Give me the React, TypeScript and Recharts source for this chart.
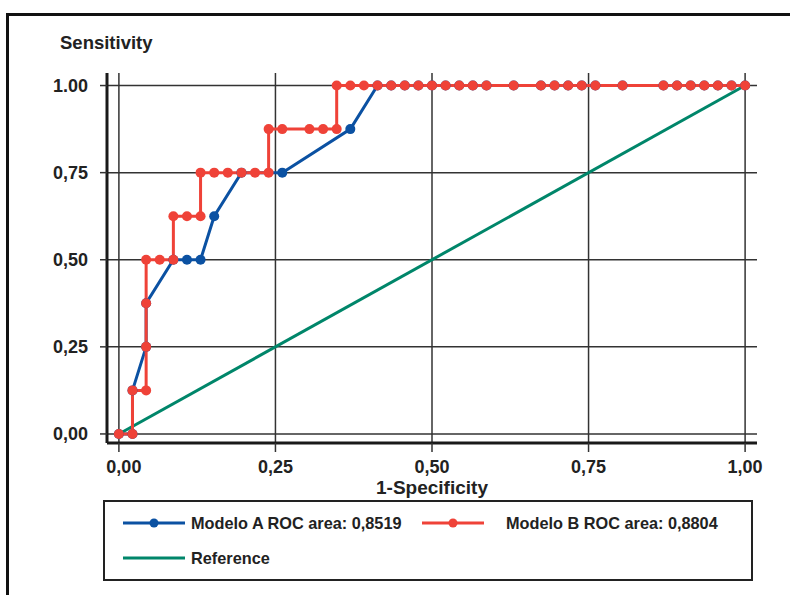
import { LineChart, Line, XAxis, YAxis, CartesianGrid } from "recharts";

const FONT = '"Liberation Sans", Arial, Helvetica, sans-serif';
const BLUE = "#0b51a2";
const RED = "#ef4238";
const GREEN = "#00866a";
const INK = "#222222";

// axis ticks
const xTicks = [0, 0.25, 0.5, 0.75, 1];
const yTicks = [0, 0.25, 0.5, 0.75, 1];
const xTickLabels = ["0,00", "0,25", "0,50", "0,75", "1,00"];
const yTickLabels = ["0,00", "0,25", "0,50", "0,75", "1.00"];

// Modelo A (blue) ROC points
const modelAX = [
  0, 0.0217, 0.0217, 0.0435, 0.0435, 0.087, 0.1087, 0.1304, 0.1522, 0.1957,
  0.2609, 0.3696, 0.413, 0.4348, 0.4565, 0.4783, 0.5, 0.5217, 0.5435, 0.5652,
  0.587, 0.6304, 0.6739, 0.6957, 0.7174, 0.7391, 0.7609, 0.8043, 0.8696,
  0.8913, 0.913, 0.9348, 0.9565, 0.9783, 1,
];
const modelAY = [
  0, 0, 0.125, 0.25, 0.375, 0.5, 0.5, 0.5, 0.625, 0.75, 0.75, 0.875, 1, 1, 1,
  1, 1, 1, 1, 1, 1, 1, 1, 1, 1, 1, 1, 1, 1, 1, 1, 1, 1, 1, 1,
];

// Modelo B (red) ROC points
const modelBX = [
  0, 0.0217, 0.0217, 0.0435, 0.0435, 0.0435, 0.0435, 0.0652, 0.087, 0.087,
  0.1087, 0.1304, 0.1304, 0.1522, 0.1739, 0.1957, 0.2174, 0.2391, 0.2391,
  0.2609, 0.3043, 0.3261, 0.3478, 0.3478, 0.3696, 0.3913, 0.413, 0.4348,
  0.4565, 0.4783, 0.5, 0.5217, 0.5435, 0.5652, 0.587, 0.6304, 0.6739, 0.6957,
  0.7174, 0.7391, 0.7609, 0.8043, 0.8696, 0.8913, 0.913, 0.9348, 0.9565,
  0.9783, 1,
];
const modelBY = [
  0, 0, 0.125, 0.125, 0.25, 0.375, 0.5, 0.5, 0.5, 0.625, 0.625, 0.625, 0.75,
  0.75, 0.75, 0.75, 0.75, 0.75, 0.875, 0.875, 0.875, 0.875, 0.875, 1, 1, 1, 1,
  1, 1, 1, 1, 1, 1, 1, 1, 1, 1, 1, 1, 1, 1, 1, 1, 1, 1, 1, 1, 1, 1,
];

// diagonal reference
const referenceX = [0, 1];
const referenceY = [0, 1];

const seriesNames = [
  "Modelo A ROC area: 0,8519",
  "Modelo B ROC area: 0,8804",
  "Reference",
];

const toPoints = (xs: number[], ys: number[]) =>
  xs.map((x, i) => ({ x, y: ys[i] }));

const modelA = toPoints(modelAX, modelAY);
const modelB = toPoints(modelBX, modelBY);
const reference = toPoints(referenceX, referenceY);

const textStyle = { fontFamily: FONT, fontWeight: 700, fill: INK };

function SensitivityLabel(props: any) {
  const vb = props.viewBox || { x: 0, y: 73 };
  return (
    <text x={vb.x + 60} y={vb.y - 24} fontSize={18.5} {...textStyle}>
      Sensitivity
    </text>
  );
}

function SpecificityLabel(props: any) {
  const vb = props.viewBox || { x: 107, y: 443, width: 650 };
  return (
    <text
      x={vb.x + vb.width / 2}
      y={vb.y + 51}
      fontSize={19}
      textAnchor="middle"
      {...textStyle}
    >
      1-Specificity
    </text>
  );
}

// x tick: the first label sits a little to the right of its tick, as in the original
function XTick(props: any) {
  const { x, y, payload } = props;
  const shift = payload.value === 0 ? 5 : 0;
  return (
    <text
      x={x + shift}
      y={y}
      dy="0.71em"
      textAnchor="middle"
      fontSize={18}
      {...textStyle}
    >
      {xTickLabels[xTicks.indexOf(payload.value)]}
    </text>
  );
}

function LegendIcon({ color, dot }: { color: string; dot: boolean }) {
  return (
    <svg width={62} height={10} style={{ display: "block" }}>
      <line x1={0} y1={5} x2={62} y2={5} stroke={color} strokeWidth={3} />
      {dot && <circle cx={31} cy={5} r={4.5} fill={color} />}
    </svg>
  );
}

function LegendItem({
  left,
  top,
  textLeft,
  color,
  dot,
  label,
}: {
  left: number;
  top: number;
  textLeft: number;
  color: string;
  dot: boolean;
  label: string;
}) {
  return (
    <>
      <div style={{ position: "absolute", left, top: top - 5 }}>
        <LegendIcon color={color} dot={dot} />
      </div>
      <div
        style={{
          position: "absolute",
          left: textLeft,
          top: top - 10,
          height: 20,
          lineHeight: "20px",
          fontFamily: FONT,
          fontWeight: 700,
          fontSize: 16.3,
          color: INK,
          whiteSpace: "nowrap",
        }}
      >
        {label}
      </div>
    </>
  );
}

export default function App() {
  return (
    <div
      style={{
        position: "absolute",
        left: 0,
        top: 0,
        width: 790,
        height: 595,
        overflow: "hidden",
        background: "#fff",
      }}
    >
      <div
        style={{
          position: "absolute",
          left: 6,
          top: 13,
          width: 820,
          height: 620,
          border: "3px solid #111",
          boxSizing: "border-box",
        }}
      />
      <div style={{ position: "absolute", left: 0, top: 0 }}>
        <LineChart
          width={790}
          height={595}
          margin={{ top: 73, right: 33, left: 0, bottom: 0 }}
        >
          <CartesianGrid stroke="#333" strokeWidth={1.5} syncWithTicks />
          <XAxis
            type="number"
            dataKey="x"
            scale="linear"
            domain={[-0.019, 1.019]}
            allowDataOverflow
            ticks={xTicks}
            height={152}
            tickSize={9}
            tickMargin={8}
            axisLine={{ stroke: "#1a1a1a", strokeWidth: 3 }}
            tickLine={{ stroke: "#333", strokeWidth: 1.5 }}
            tick={<XTick />}
            label={{ content: SpecificityLabel }}
          />
          <YAxis
            type="number"
            dataKey="y"
            scale="linear"
            domain={[-0.026, 1.036]}
            allowDataOverflow
            ticks={yTicks}
            width={107}
            tickSize={7}
            tickMargin={12}
            tickFormatter={(v: number) => yTickLabels[yTicks.indexOf(v)]}
            axisLine={{ stroke: "#1a1a1a", strokeWidth: 3 }}
            tickLine={{ stroke: "#333", strokeWidth: 1.5 }}
            tick={{ ...textStyle, fontSize: 18 }}
            label={{ content: SensitivityLabel }}
          />
          <Line
            data={reference}
            dataKey="y"
            name={seriesNames[2]}
            type="linear"
            stroke={GREEN}
            strokeWidth={3}
            dot={false}
            activeDot={false}
            isAnimationActive={false}
          />
          <Line
            data={modelA}
            dataKey="y"
            name={seriesNames[0]}
            type="linear"
            stroke={BLUE}
            strokeWidth={3}
            dot={{ r: 5, fill: BLUE, stroke: BLUE, strokeWidth: 0 }}
            activeDot={false}
            isAnimationActive={false}
          />
          <Line
            data={modelB}
            dataKey="y"
            name={seriesNames[1]}
            type="linear"
            stroke={RED}
            strokeWidth={3}
            dot={{ r: 5, fill: RED, stroke: RED, strokeWidth: 0 }}
            activeDot={false}
            isAnimationActive={false}
          />
        </LineChart>
      </div>
      <div
        style={{
          position: "absolute",
          left: 103,
          top: 500,
          width: 650,
          height: 81,
          border: "2.5px solid #222",
          boxSizing: "border-box",
        }}
      />
      <LegendItem left={123} top={523} textLeft={191} color={BLUE} dot label={seriesNames[0]} />
      <LegendItem left={422} top={523} textLeft={506} color={RED} dot label={seriesNames[1]} />
      <LegendItem left={123} top={558} textLeft={191} color={GREEN} dot={false} label={seriesNames[2]} />
    </div>
  );
}
